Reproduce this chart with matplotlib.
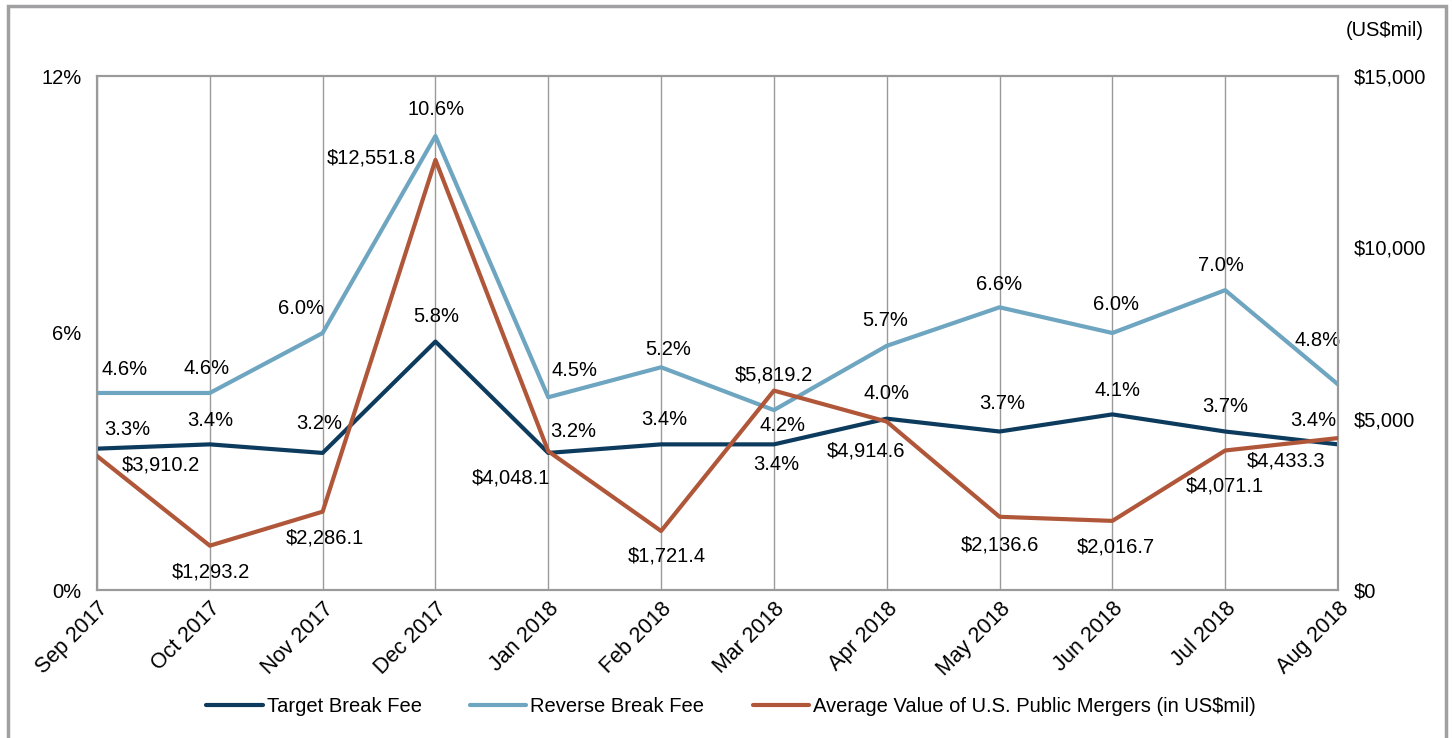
import matplotlib
matplotlib.use("Agg")
import matplotlib.pyplot as plt
from matplotlib.patches import Rectangle

plt.rcParams['font.family'] = ['Liberation Sans', 'DejaVu Sans']

months = ['Sep 2017', 'Oct 2017', 'Nov 2017', 'Dec 2017', 'Jan 2018', 'Feb 2018',
          'Mar 2018', 'Apr 2018', 'May 2018', 'Jun 2018', 'Jul 2018', 'Aug 2018']
target_fee = [3.3, 3.4, 3.2, 5.8, 3.2, 3.4, 3.4, 4.0, 3.7, 4.1, 3.7, 3.4]
reverse_fee = [4.6, 4.6, 6.0, 10.6, 4.5, 5.2, 4.2, 5.7, 6.6, 6.0, 7.0, 4.8]
avg_value = [3910.2, 1293.2, 2286.1, 12551.8, 4048.1, 1721.4, 5819.2, 4914.6,
             2136.6, 2016.7, 4071.1, 4433.3]

# label offsets in pixels (dx, dy) relative to each point
target_off = [(30, 19), (0, 24), (-3, 29), (1, 25), (25, 21), (3, 25),
              (2, -20), (0, 25), (3, 28), (5, 24), (0, 25), (-25, 24)]
reverse_off = [(28, 23), (-3, 24), (-22, 25), (1, 26), (26, 27), (7, 18),
               (9, -15), (-2, 25), (0, 23), (4, 28), (-4, 25), (-20, 44)]
avg_off = [(64, -9), (1, -26), (2, -26), (-64, 2), (-37, -27), (6, -25),
           (0, 16), (-21, -29), (0, -28), (3, -26), (0, -36), (-52, -23)]

NAVY = '#0d3b5e'
LIGHT = '#6ea5c0'
RUST = '#b0573a'
GRID = '#9a9a9a'
FS = 14.5

fig = plt.figure(figsize=(14.52, 7.38), dpi=100)
ax = fig.add_axes([97 / 1452, 1 - 590 / 738, 1241 / 1452, 514 / 738])
ax2 = ax.twinx()

x = list(range(len(months)))
ax.plot(x, target_fee, color=NAVY, lw=3, label='Target Break Fee', zorder=3)
ax.plot(x, reverse_fee, color=LIGHT, lw=3, label='Reverse Break Fee', zorder=3)
ax2.plot(x, avg_value, color=RUST, lw=3,
         label='Average Value of U.S. Public Mergers (in US$mil)', zorder=3)

ax.set_xlim(0, len(months) - 1)
ax.set_ylim(0, 12)
ax2.set_ylim(0, 15000)
ax.set_yticks([0, 6, 12])
ax.set_yticklabels(['0%', '6%', '12%'])
ax2.set_yticks([0, 5000, 10000, 15000])
ax2.set_yticklabels(['$0', '$5,000', '$10,000', '$15,000'])
ax.set_xticks(x)
ax.set_xticklabels(months, rotation=45, ha='right', rotation_mode='anchor')
ax.tick_params(axis='x', length=0, pad=6, labelsize=15.5)
ax.tick_params(axis='y', length=0, pad=11, labelsize=FS)
ax2.tick_params(axis='y', length=0, pad=11, labelsize=FS)
ax.grid(axis='x', color=GRID, lw=1)
for a in (ax, ax2):
    for s in a.spines.values():
        s.set_color(GRID)
        s.set_linewidth(1.5)

def px(dx, dy):
    return (dx * 0.72, dy * 0.72)

for i in x:
    ax.annotate(f'{target_fee[i]:.1f}%', (i, target_fee[i]), xytext=px(*target_off[i]),
                textcoords='offset points', ha='center', va='center', fontsize=FS)
    ax.annotate(f'{reverse_fee[i]:.1f}%', (i, reverse_fee[i]), xytext=px(*reverse_off[i]),
                textcoords='offset points', ha='center', va='center', fontsize=FS)
    ax2.annotate(f'${avg_value[i]:,.1f}', (i, avg_value[i]), xytext=px(*avg_off[i]),
                 textcoords='offset points', ha='center', va='center', fontsize=FS)

fig.text(1385 / 1452, 1 - 30 / 738, '(US$mil)', ha='center', va='center', fontsize=FS)

h1, l1 = ax.get_legend_handles_labels()
h2, l2 = ax2.get_legend_handles_labels()
leg = fig.legend(h1 + h2, l1 + l2, loc='center', bbox_to_anchor=(731 / 1452, 1 - 707 / 738),
                 ncol=3, frameon=False, fontsize=FS, handlelength=2.8, handletextpad=0.2,
                 columnspacing=2.4)
for line in leg.get_lines():
    line.set_solid_capstyle('round')

# outer frame
fig.patches.append(Rectangle((8 / 1452, -0.1), 1438 / 1452, 1.1 - 6 / 738,
                             transform=fig.transFigure, fill=False,
                             edgecolor='#a0a0a2', lw=2.5))

fig.savefig('out.png', dpi=100)
